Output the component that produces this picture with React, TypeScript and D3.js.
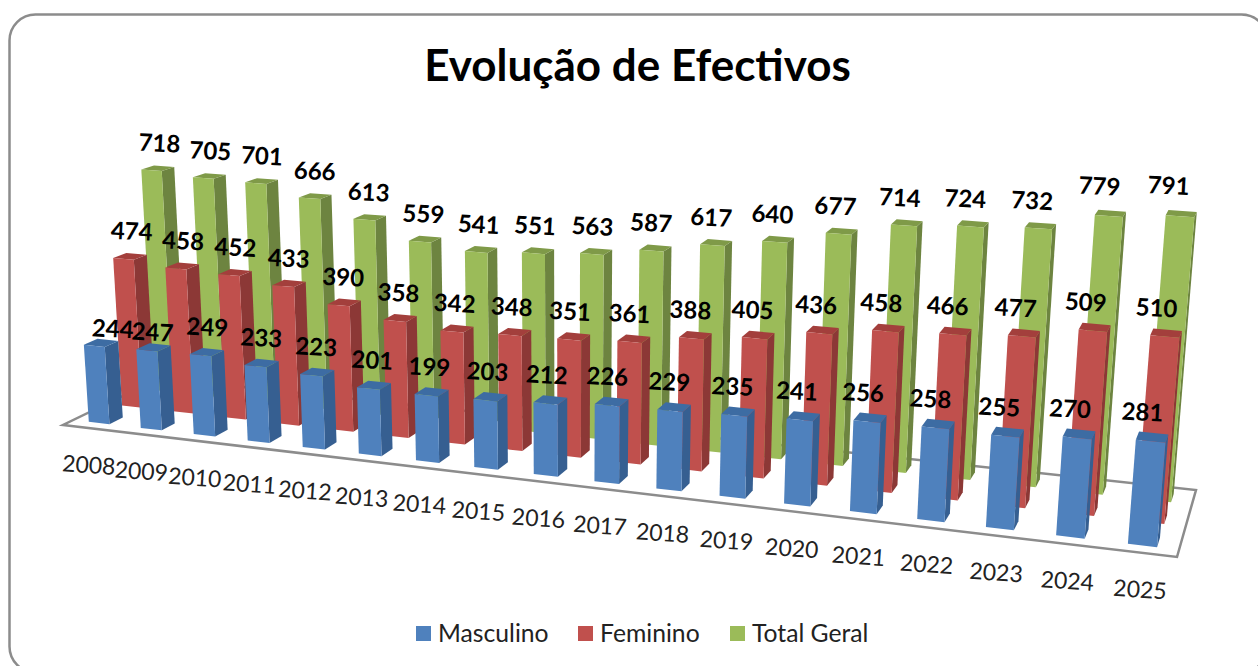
import React from 'react'
import * as d3 from 'd3'

const WIDTH = 1258
const HEIGHT = 666

const years = ['2008', '2009', '2010', '2011', '2012', '2013', '2014', '2015', '2016', '2017', '2018', '2019', '2020', '2021', '2022', '2023', '2024', '2025']
const masculino = [244, 247, 249, 233, 223, 201, 199, 203, 212, 226, 229, 235, 241, 256, 258, 255, 270, 281]
const feminino = [474, 458, 452, 433, 390, 358, 342, 348, 351, 361, 388, 405, 436, 458, 466, 477, 509, 510]
const totalGeral = [718, 705, 701, 666, 613, 559, 541, 551, 563, 587, 617, 640, 677, 714, 724, 732, 779, 791]

const seriesNames = ['Masculino', 'Feminino', 'Total Geral']
const seriesValues = [masculino, feminino, totalGeral]
const faceColours = [
  { front: '#4f81bd', side: '#365f91', top: '#3d6ca3' },
  { front: '#c0504d', side: '#8c3836', top: '#a33f3c' },
  { front: '#9bbb59', side: '#6d8440', top: '#7f9a48' },
]

// floor corners on screen: front left, front right, back right, back left
const FLOOR = [[63, 425], [1177, 557], [1196, 490], [160, 378]]
// vertical edges converge on this point far below the chart
const VANISH = [567, 7900]

const FONT = 'Lato, sans-serif'

// a few labels were moved by hand in the original
const NUDGE: Record<string, [number, number]> = {
  'Masculino-2008': [10, 11],
  'Masculino-2009': [-2, 10],
  'Total Geral-2024': [-2, -2],
  'Total Geral-2025': [-3, -3],
}

// unit square -> quad homography
function floorMatrix([[x0, y0], [x1, y1], [x2, y2], [x3, y3]]: number[][]) {
  const dx1 = x1 - x2, dx2 = x3 - x2, sx = x0 - x1 + x2 - x3
  const dy1 = y1 - y2, dy2 = y3 - y2, sy = y0 - y1 + y2 - y3
  const den = dx1 * dy2 - dx2 * dy1
  const g = (sx * dy2 - dx2 * sy) / den
  const h = (dx1 * sy - sx * dy1) / den
  return {
    a: x1 - x0 + g * x1, b: x3 - x0 + h * x3, c: x0,
    d: y1 - y0 + g * y1, e: y3 - y0 + h * y3, f: y0,
    g, h,
  }
}

const m = floorMatrix(FLOOR)

function project(u: number, v: number, t = 0): [number, number] {
  const w = m.g * u + m.h * v + 1 - t
  return [
    (m.a * u + m.b * v + m.c - t * VANISH[0]) / w,
    (m.d * u + m.e * v + m.f - t * VANISH[1]) / w,
  ]
}

const uScale = d3.scaleBand<string>().domain(years).range([0, 1]).paddingInner(0.6).paddingOuter(0.3)
const vScale = d3.scaleBand<string>().domain(seriesNames).range([0, 1]).paddingInner(0.6).paddingOuter(0.3)
const zScale = d3.scaleLinear().domain([0, 800]).range([0, 0.0336])

const polygon = d3.line().curve(d3.curveLinearClosed)

function Bar({ year, name, value, colours }: any) {
  const u0 = uScale(year)!
  const u1 = u0 + uScale.bandwidth()
  const v0 = vScale(name)!
  const v1 = v0 + vScale.bandwidth()
  const t = zScale(value)
  const front = [project(u0, v0, 0), project(u1, v0, 0), project(u1, v0, t), project(u0, v0, t)]
  const side = [project(u1, v0, 0), project(u1, v1, 0), project(u1, v1, t), project(u1, v0, t)]
  const top = [project(u0, v0, t), project(u1, v0, t), project(u1, v1, t), project(u0, v1, t)]
  return (
    <g>
      <path d={polygon(side)!} fill={colours.side} />
      <path d={polygon(top)!} fill={colours.top} />
      <path d={polygon(front)!} fill={colours.front} />
    </g>
  )
}

function ValueLabel({ year, name, value }: any) {
  const u = uScale(year)! + uScale.bandwidth() / 2
  const v = vScale(name)! + vScale.bandwidth() / 2
  const [x, y] = project(u, v, zScale(value))
  const [nx, ny] = NUDGE[`${name}-${year}`] ?? [0, 0]
  const lx = x + 2 - 12 * u + nx
  const ly = y - 25 + ny
  return (
    <text x={lx} y={ly} transform={`rotate(3 ${lx} ${ly})`} textAnchor="middle" dy="0.35em"
      fontFamily={FONT} fontWeight="700" fontSize={24} fill="#000">{value}</text>
  )
}

export default function App() {
  const floor = FLOOR.map(p => p) as [number, number][]
  const order = [2, 1, 0]
  return (
    <svg width={WIDTH} height={HEIGHT} style={{ position: 'fixed', left: 0, top: 0, background: '#fff' }}>
      <rect x={9.5} y={14.5} width={1258} height={658} rx={26} fill="#fff" stroke="#8c8c8c" strokeWidth={2.5} />
      <text x={637.5} y={81} textAnchor="middle" fontFamily={FONT} fontWeight="700" fontSize={44} fill="#000">Evolução de Efectivos</text>

      <path d={polygon(floor)!} fill="#fff" stroke="#8c8c8c" strokeWidth={2.5} />

      {order.map(s => (
        <g key={seriesNames[s]}>
          {years.map((year, i) => (
            <Bar key={year} year={year} name={seriesNames[s]} value={seriesValues[s][i]} colours={faceColours[s]} />
          ))}
        </g>
      ))}

      {years.map(year => {
        const [x, y] = project(uScale(year)! + uScale.bandwidth() / 2, 0, 0)
        const ly = y + 37
        return (
          <text key={year} x={x} y={ly} transform={`rotate(4 ${x} ${ly})`} textAnchor="middle" dy="0.35em"
            fontFamily={FONT} fontSize={23} fill="#222">{year}</text>
        )
      })}

      {order.map(s => years.map((year, i) => (
        <ValueLabel key={`${s}-${year}`} year={year} name={seriesNames[s]} value={seriesValues[s][i]} />
      )))}

      {seriesNames.map((name, s) => {
        const x = [416, 578, 730][s]
        return (
          <g key={name}>
            <rect x={x} y={626} width={15} height={15} fill={faceColours[s].front} />
            <text x={x + 22} y={642} fontFamily={FONT} fontSize={24.7} fill="#222">{name}</text>
          </g>
        )
      })}
    </svg>
  )
}
